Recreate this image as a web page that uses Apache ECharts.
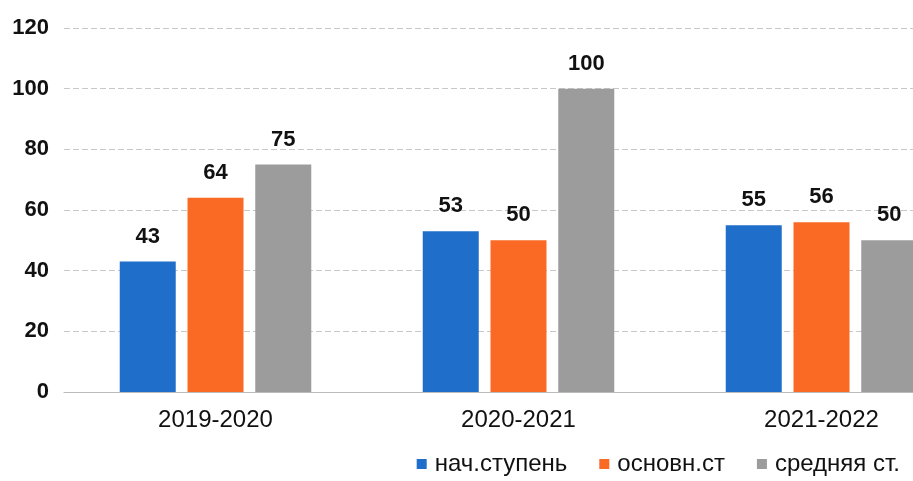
<!DOCTYPE html>
<html><head><meta charset="utf-8">
<script src="https://cdn.jsdelivr.net/npm/echarts@6/dist/echarts.min.js"></script>
<style>html,body{margin:0;padding:0;background:#fff}#c{width:913px;height:481px}</style>
</head><body><div id="c"></div>
<script>
const categories = ['2019-2020', '2020-2021', '2021-2022'];
const seriesNames = ['нач.ступень', 'основн.ст', 'средняя ст.'];
const nach = [43, 53, 55];
const osnov = [64, 50, 56];
const sred = [75, 100, 50];
const yTicks = {min: 0, max: 120, interval: 20};

const colors = ['#1f6ec9', '#fa6a25', '#9c9c9c'];
const lbl = {show: true, position: 'top', distance: 14, fontFamily: 'Liberation Sans', fontSize: 22, color: '#111', fontWeight: 'bold'};
const chart = echarts.init(document.getElementById('c'));
chart.setOption({
  animation: false,
  grid: {left: 64, width: 909, top: 28, bottom: 89, containLabel: false, outerBoundsMode: 'none'},
  legend: {
    right: 8, bottom: 0, itemWidth: 10, itemHeight: 10, itemGap: 32, icon: 'rect',
    textStyle: {fontFamily: 'Liberation Sans', fontSize: 24, color: '#111', padding: [0, 0, 0, 3]}
  },
  xAxis: {
    type: 'category', data: categories,
    axisLine: {show: true, lineStyle: {color: '#bbb'}}, axisTick: {show: false},
    axisLabel: {fontFamily: 'Liberation Sans', fontSize: 24, color: '#111', margin: 16}
  },
  yAxis: {
    type: 'value', min: yTicks.min, max: yTicks.max, interval: yTicks.interval,
    axisLine: {show: false}, axisTick: {show: false},
    axisLabel: {fontFamily: 'Liberation Sans', fontSize: 22, fontWeight: 'bold', color: '#111', margin: 15},
    splitLine: {lineStyle: {color: '#c8c8c8', type: [6, 3]}}
  },
  series: [
    {name: seriesNames[0], type: 'bar', data: nach, barWidth: 56, barGap: '21%', itemStyle: {color: colors[0]}, label: lbl},
    {name: seriesNames[1], type: 'bar', data: osnov, barWidth: 56, barGap: '21%', itemStyle: {color: colors[1]}, label: lbl},
    {name: seriesNames[2], type: 'bar', data: sred, barWidth: 56, barGap: '21%', itemStyle: {color: colors[2]}, label: lbl}
  ]
});
</script></body></html>
